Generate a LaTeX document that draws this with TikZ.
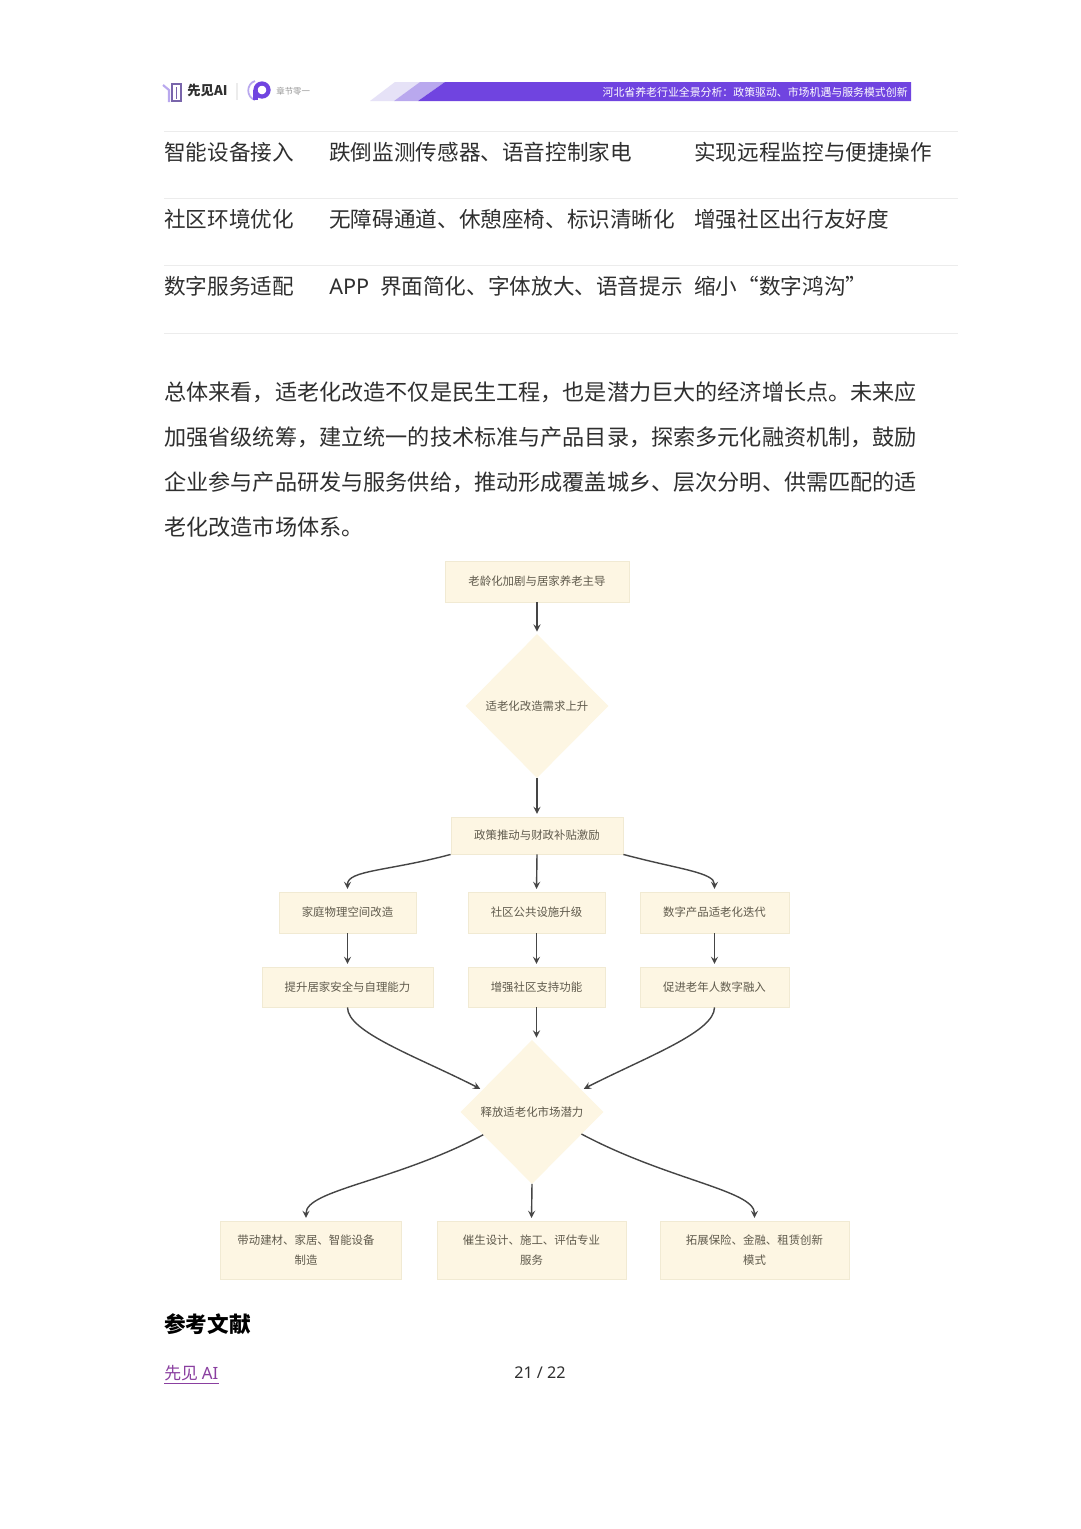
\documentclass[tikz,border=0pt]{standalone}
\usepackage{fontspec}
\setmainfont{Noto Sans CJK SC}
\newfontfamily\latinfont{Noto Sans}
\usetikzlibrary{shapes.geometric}
\definecolor{bodytext}{HTML}{2F2F2F}
\definecolor{rulegray}{HTML}{ECECEC}
\definecolor{boxfill}{HTML}{FDF6E3}
\definecolor{boxline}{HTML}{F1EAD3}
\definecolor{boxtext}{HTML}{5F5A4C}
\definecolor{flowgray}{HTML}{454545}
\definecolor{bandviolet}{HTML}{7044E0}
\definecolor{bandmid}{HTML}{B9A8EE}
\definecolor{bandpale}{HTML}{E6E2F7}
\definecolor{linkviolet}{HTML}{8A3FA0}
\tikzset{
  bodyline/.style={anchor=west, inner sep=0pt, text=bodytext, font=\fontsize{12.3}{14}\selectfont},
  paraline/.style={bodyline, font=\fontsize{12.6}{14}\selectfont},
  flowbox/.style={draw=boxline, fill=boxfill, line width=0.5pt, inner sep=0pt, minimum height=#1, text=boxtext, align=center, font=\fontsize{6.5}{11}\selectfont},
  flowbox/.default=0.82cm,
  flowdiamond/.style={diamond, fill=boxfill, draw=boxfill, inner sep=0pt, minimum width=2.84cm, minimum height=2.86cm, text=boxtext, font=\fontsize{6.5}{8}\selectfont},
  flowarrow/.style={->, draw=flowgray, line width=0.8pt, shorten >=1.5pt},
}
\begin{document}
\begin{tikzpicture}[x=0.02cm, y=-0.02cm, >=stealth]
    \useasboundingbox (0,0) rectangle (1080,1529);
    \fill[white] (0,0) rectangle (1080,1529);

    % Header band
    \fill[bandpale] (370,101) -- (395,82) -- (420,82) -- (394,101) -- cycle;
    \fill[bandmid] (394,101) -- (420,82) -- (445,82) -- (418,101) -- cycle;
    \fill[bandviolet] (418,101) -- (445,82) -- (911,82) -- (911,101) -- cycle;
    \node[anchor=east, inner sep=0pt, text=white, font=\fontsize{6.2}{8}\selectfont] (bandtitle) at (908,92) {河北省养老行业全景分析：政策驱动、市场机遇与服务模式创新};

    % Header logos
    \draw[bandmid, line width=1.2pt] (163,85) -- (169,90) -- (169,102);
    \draw[bandviolet!45!gray, line width=0.7pt] (172,84) rectangle (181,101);
    \draw[bandviolet!45!gray, line width=0.7pt] (176.5,87) -- (176.5,99);
    \node[anchor=west, inner sep=0pt, text=bodytext, font=\fontsize{7.6}{10}\bfseries\selectfont] (logoname) at (187,90) {先见AI};
    \draw[rulegray, line width=0.6pt] (237,83) -- (237,100);
    \draw[bandmid, line width=1pt] (255,81) .. controls (246,84) and (246,97) .. (255,100);
    \draw[bandviolet, line width=2.4pt] (262,90) circle (6.5);
    \draw[bandviolet, line width=2.4pt] (255.5,90) -- (255.5,100);
    \node[anchor=west, inner sep=0pt, text=gray!80, font=\fontsize{4.8}{6}\selectfont] (logotag) at (276,91) {章节零一};

    % Table rows
    \foreach \y in {131,198,265,333}
      \draw[rulegray, line width=0.5pt] (164,\y) -- (958,\y);
    \node[bodyline] (rowa) at (164,152) {智能设备接入};
    \node[bodyline] (rowb) at (329,152) {跌倒监测传感器、语音控制家电};
    \node[bodyline] (rowc) at (694,152) {实现远程监控与便捷操作};
    \node[bodyline] (rowd) at (164,219) {社区环境优化};
    \node[bodyline] (rowe) at (329,219) {无障碍通道、休憩座椅、标识清晰化};
    \node[bodyline] (rowf) at (694,219) {增强社区出行友好度};
    \node[bodyline] (rowg) at (164,286) {数字服务适配};
    \node[bodyline] (rowh) at (329,286) {{\latinfont APP}\hspace{0.12cm} 界面简化、字体放大、语音提示};
    \node[bodyline] (rowi) at (694,286) {缩小“数字鸿沟”};

    % Paragraph
    \node[paraline] (parta) at (164,392) {总体来看，适老化改造不仅是民生工程，也是潜力巨大的经济增长点。未来应};
    \node[paraline] (partb) at (164,437) {加强省级统筹，建立统一的技术标准与产品目录，探索多元化融资机制，鼓励};
    \node[paraline] (partc) at (164,482) {企业参与产品研发与服务供给，推动形成覆盖城乡、层次分明、供需匹配的适};
    \node[paraline] (partd) at (164,527) {老化改造市场体系。};

    % Flow chart nodes
    \node[flowbox, minimum width=3.68cm] (aging) at (537,581.5) {老龄化加剧与居家养老主导};
    \node[flowdiamond] (demand) at (537,706) {适老化改造需求上升};
    \node[flowbox=0.74cm, minimum width=3.44cm] (policy) at (537,835.5) {政策推动与财政补贴激励};
    \node[flowbox, minimum width=2.74cm] (home) at (347.5,912.5) {家庭物理空间改造};
    \node[flowbox, minimum width=2.74cm] (public) at (536.5,912.5) {社区公共设施升级};
    \node[flowbox, minimum width=2.98cm] (digital) at (714.5,912.5) {数字产品适老化迭代};
    \node[flowbox=0.80cm, minimum width=3.42cm] (safety) at (347.5,987) {提升居家安全与自理能力};
    \node[flowbox=0.80cm, minimum width=2.74cm] (support) at (536.5,987) {增强社区支持功能};
    \node[flowbox=0.80cm, minimum width=2.98cm] (inclusion) at (714.5,987) {促进老年人数字融入};
    \node[flowdiamond] (market) at (532,1112) {释放适老化市场潜力};
    \node[flowbox=1.16cm, minimum width=3.62cm] (build) at (310.5,1250) {带动建材、家居、智能设备\makebox[0.18cm]{}\\制造\makebox[0.18cm]{}};
    \node[flowbox=1.16cm, minimum width=3.78cm] (design) at (531.5,1250) {催生设计、施工、评估专业\\服务};
    \node[flowbox=1.16cm, minimum width=3.78cm] (finance) at (754.5,1250) {拓展保险、金融、租赁创新\\模式};

    % Flow chart connectors
    \draw[flowarrow] (aging) -- (demand);
    \draw[flowarrow] (demand) -- (policy);
    \draw[flowarrow] (policy.south west) to[out=195, in=90, out looseness=1.5, in looseness=0.5] (home.north);
    \draw[flowarrow] (policy.south) -- (public.north);
    \draw[flowarrow] (policy.south east) to[out=-15, in=90, out looseness=1.5, in looseness=0.5] (digital.north);
    \draw[flowarrow] (home) -- (safety);
    \draw[flowarrow] (public) -- (support);
    \draw[flowarrow] (digital) -- (inclusion);
    \draw[flowarrow] (safety.south) to[out=-90, in=153, out looseness=0.4, in looseness=1.2] (market.156);
    \draw[flowarrow] (support.south) -- (market.north -| support.south);
    \draw[flowarrow] (inclusion.south) to[out=-90, in=27, out looseness=0.4, in looseness=1.2] (market.24);
    \draw[flowarrow] (market.205) to[out=208, in=90, out looseness=1.3, in looseness=0.4] ([xshift=-0.09cm]build.north);
    \draw[flowarrow] (market.south) -- (design.north);
    \draw[flowarrow] (market.-24) to[out=-28, in=90, out looseness=1.3, in looseness=0.4] (finance.north);

    % Footer
    \node[bodyline, font=\fontsize{12.3}{14}\bfseries\selectfont, text=black] (refs) at (164,1324) {参考文献};
    \node[anchor=west, inner sep=0pt, text=linkviolet, font=\fontsize{9.6}{12}\selectfont] (footlink) at (164,1373) {先见 {\latinfont AI}};
    \draw[linkviolet, line width=0.5pt] ([yshift=-1.5pt]footlink.south west) -- ([yshift=-1.5pt]footlink.south east);
    \node[inner sep=0pt, text=bodytext, font=\fontsize{9.2}{12}\latinfont] (pagemark) at (540,1373) {21 / 22};
\end{tikzpicture}
\end{document}
